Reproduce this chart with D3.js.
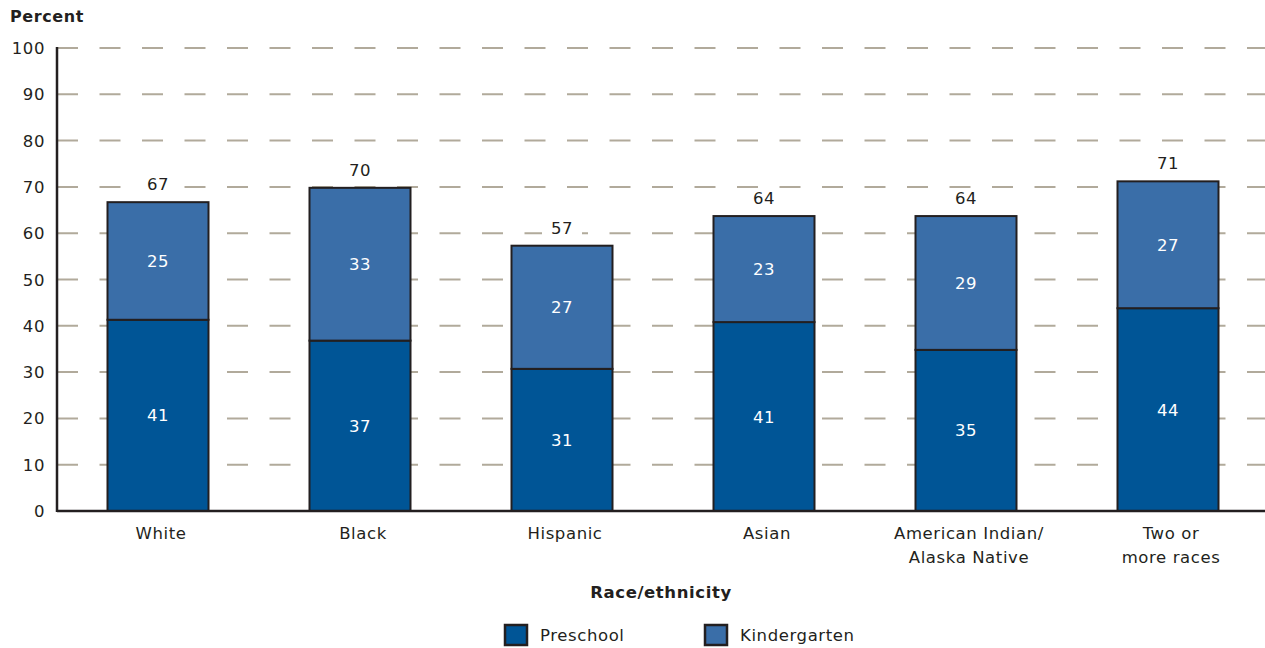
<!DOCTYPE html>
<html><head><meta charset="utf-8">
<script src="https://cdn.jsdelivr.net/npm/d3@7"></script>
<style>body{margin:0;background:#fff}text{font-family:"DejaVu Sans",sans-serif;letter-spacing:0.6px}</style>
</head><body><svg id="c" width="1265" height="648"></svg>
<script>
const categories = ["White","Black","Hispanic","Asian","American Indian/\nAlaska Native","Two or\nmore races"];
const preschool = [41.3, 36.8, 30.7, 40.8, 34.8, 43.8];
const kindergarten = [25.4, 33.0, 26.6, 22.9, 28.9, 27.4];
const yTicks = [0,10,20,30,40,50,60,70,80,90,100];
const seriesNames = ["Preschool","Kindergarten"];
const colors = ["#005596","#3a6ea8"];
const ink = "#231f20";
const fs = 16.5;

const svg = d3.select("#c");
const x0 = 57, x1 = 1269, yTop = 48, yBot = 511;
const x = d3.scaleBand().domain(categories).range([x0, x1]).paddingInner(0.5).paddingOuter(0.25);
const y = d3.scaleLinear().domain([0,100]).range([yBot, yTop]);

// gridlines
svg.append("g").selectAll("line").data(yTicks.filter(d=>d>0)).join("line")
  .attr("x1", x0).attr("x2", 1265).attr("y1", d=>y(d)).attr("y2", d=>y(d))
  .attr("stroke","#b1aa9b").attr("stroke-width",2).attr("stroke-dasharray","21,21.5");

// y tick labels
svg.append("g").selectAll("text").data(yTicks).join("text")
  .attr("x", 45).attr("y", d=>y(d)+6).attr("text-anchor","end")
  .attr("font-size",fs).attr("fill",ink).text(d=>d);

svg.append("text").attr("x",10).attr("y",22).attr("font-size",16).attr("font-weight","bold").attr("fill",ink).text("Percent");

const data = categories.map((c,i)=>({c, p:preschool[i], k:kindergarten[i]}));
const bw = x.bandwidth();
const g = svg.append("g");
data.forEach(d=>{
  g.append("rect").attr("x",x(d.c)).attr("width",bw).attr("y",y(d.p)).attr("height",y(0)-y(d.p))
    .attr("fill",colors[0]).attr("stroke",ink).attr("stroke-width",2);
  g.append("rect").attr("x",x(d.c)).attr("width",bw).attr("y",y(d.p+d.k)).attr("height",y(d.p)-y(d.p+d.k))
    .attr("fill",colors[1]).attr("stroke",ink).attr("stroke-width",2);
  const cx = x(d.c)+bw/2;
  g.append("text").attr("x",cx).attr("y",(y(0)+y(d.p))/2+6).attr("text-anchor","middle").attr("font-size",fs).attr("fill","#fff").text(Math.round(d.p));
  g.append("text").attr("x",cx).attr("y",(y(d.p)+y(d.p+d.k))/2+6).attr("text-anchor","middle").attr("font-size",fs).attr("fill","#fff").text(Math.round(d.k));
  const ty = y(d.p+d.k)-12;
  g.append("rect").attr("x",cx-20).attr("y",ty-14).attr("width",40).attr("height",20).attr("fill","#fff");
  g.append("text").attr("x",cx).attr("y",ty).attr("text-anchor","middle").attr("font-size",fs).attr("fill",ink).text(Math.round(d.p+d.k));
});

// axes
svg.append("line").attr("x1",x0).attr("x2",1265).attr("y1",yBot).attr("y2",yBot).attr("stroke",ink).attr("stroke-width",2.5);
svg.append("line").attr("x1",x0).attr("x2",x0).attr("y1",yTop-1).attr("y2",yBot+1).attr("stroke",ink).attr("stroke-width",2.5);

// x labels
categories.forEach(c=>{
  const t = svg.append("text").attr("text-anchor","middle").attr("font-size",fs).attr("fill",ink);
  c.split("\n").forEach((line,j)=>{
    t.append("tspan").attr("x",x(c)+bw/2+3).attr("y",539+j*24).text(line);
  });
});

svg.append("text").attr("x",661).attr("y",598).attr("text-anchor","middle").attr("font-size",fs).attr("font-weight","bold").attr("fill",ink).text("Race/ethnicity");

// legend
const lx = [504, 704];
seriesNames.forEach((n,i)=>{
  svg.append("rect").attr("x",lx[i]+1).attr("y",625).attr("width",22).attr("height",20).attr("fill",colors[i]).attr("stroke",ink).attr("stroke-width",2.5);
  svg.append("text").attr("x",lx[i]+36).attr("y",641).attr("font-size",fs).attr("fill",ink).text(n);
});
</script></body></html>
